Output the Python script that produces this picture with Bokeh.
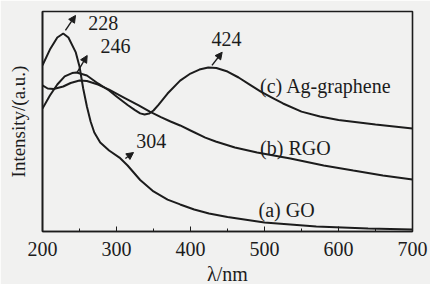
from bokeh.plotting import figure
from bokeh.models import Range1d, FixedTicker, Label, Arrow, NormalHead
from bokeh.embed import file_html
from bokeh.resources import INLINE

# ---- data ----
go_nm = [200, 210, 220, 228, 235, 245, 250, 255, 260, 265, 270, 278, 290, 304, 315,
         332, 350, 369, 386, 405, 425, 450, 500, 570, 640, 700]
go_int = [0.755, 0.827, 0.882, 0.900, 0.882, 0.814, 0.750, 0.650, 0.568, 0.500, 0.450,
          0.405, 0.368, 0.336, 0.300, 0.234, 0.182, 0.145, 0.123, 0.100, 0.082, 0.066,
          0.041, 0.023, 0.014, 0.009]

rgo_nm = [200, 207, 215, 228, 238, 250, 260, 275, 290, 310, 330, 345, 360, 373, 386,
          400, 420, 434, 460, 490, 535, 580, 620, 660, 700]
rgo_int = [0.664, 0.650, 0.648, 0.659, 0.675, 0.686, 0.684, 0.668, 0.645, 0.609, 0.573,
           0.545, 0.520, 0.500, 0.482, 0.459, 0.427, 0.409, 0.382, 0.359, 0.332, 0.300,
           0.277, 0.255, 0.236]

ag_nm = [200, 210, 220, 230, 240, 246, 260, 275, 290, 300, 315, 325, 332, 338, 344,
         350, 357, 369, 386, 400, 412, 424, 435, 450, 465, 480, 495, 510, 525, 550,
         575, 600, 650, 700]
ag_int = [0.559, 0.618, 0.668, 0.705, 0.720, 0.723, 0.709, 0.673, 0.641, 0.614, 0.575,
          0.552, 0.537, 0.532, 0.536, 0.550, 0.577, 0.627, 0.686, 0.718, 0.736, 0.745,
          0.743, 0.727, 0.700, 0.668, 0.636, 0.609, 0.582, 0.545, 0.523, 0.507, 0.486,
          0.468]

x_ticks = [200, 300, 400, 500, 600, 700]

peak_labels = ["228", "246", "424", "304"]
curve_labels = ["(c) Ag-graphene", "(b) RGO", "(a) GO"]

FONT = "Liberation Serif"
INK = "#1c1c1c"
BG = "#f1f1f0"

p = figure(width=430, height=300, output_backend="svg", toolbar_location=None,
           x_range=Range1d(200, 700), y_range=Range1d(0, 1),
           min_border_left=42, min_border_right=18, min_border_top=11,
           min_border_bottom=69)
p.background_fill_color = BG
p.border_fill_color = BG
p.outline_line_color = INK
p.outline_line_width = 1.6
p.grid.visible = False

for xs, ys in [(go_nm, go_int), (rgo_nm, rgo_int), (ag_nm, ag_int)]:
    p.line(xs, ys, line_color=INK, line_width=2.0)

# x axis
xa = p.xaxis[0]
xa.ticker = FixedTicker(ticks=x_ticks, minor_ticks=[250, 350, 450, 550, 650])
xa.major_tick_in = 5
xa.major_tick_out = 0
xa.minor_tick_in = 3
xa.minor_tick_out = 0
xa.axis_line_width = 1.6
xa.axis_line_color = INK
xa.major_tick_line_color = INK
xa.minor_tick_line_color = INK
xa.major_label_text_font = FONT
xa.major_label_text_font_size = "20px"
xa.major_label_text_color = INK
xa.major_label_standoff = 10
xa.axis_label = "λ/nm"
xa.axis_label_text_font = FONT
xa.axis_label_text_font_style = "normal"
xa.axis_label_text_font_size = "20px"
xa.axis_label_text_color = INK
xa.axis_label_standoff = 4

# y axis
ya = p.yaxis[0]
ya.ticker = FixedTicker(ticks=[])
ya.axis_line_width = 1.6
ya.axis_line_color = INK
ya.axis_label = "Intensity/(a.u.)"
ya.axis_label_text_font = FONT
ya.axis_label_text_font_style = "normal"
ya.axis_label_text_font_size = "19px"
ya.axis_label_text_color = INK
ya.axis_label_standoff = 14

# peak labels
peak_pos = [(282, 0.95), (298.6, 0.841), (448.6, 0.873), (347, 0.41)]
for t, (x, y) in zip(peak_labels, peak_pos):
    p.add_layout(Label(x=x, y=y, text=t, text_font=FONT, text_font_size="20px",
                       text_color=INK, text_align="center", text_baseline="middle"))

# curve labels
curve_pos = [(494, 0.661), (494, 0.38), (492, 0.10)]
for t, (x, y) in zip(curve_labels, curve_pos):
    p.add_layout(Label(x=x, y=y, text=t, text_font=FONT, text_font_size="20px",
                       text_color=INK, text_align="left", text_baseline="middle"))

# arrows
arrows = [(231, 0.914, 244.6, 0.982), (247, 0.724, 260.4, 0.80),
          (429, 0.755, 442.8, 0.815), (312, 0.332, 323, 0.359)]
for xs_, ys_, xe, ye in arrows:
    p.add_layout(Arrow(x_start=xs_, y_start=ys_, x_end=xe, y_end=ye,
                       line_color=INK, line_width=1.4,
                       end=NormalHead(size=7, fill_color=INK, line_color=INK)))

html = file_html(p, INLINE)
html = html.replace("<body>", '<body style="overflow:hidden;background:%s">' % BG, 1)
open("out.html", "w").write(html)
